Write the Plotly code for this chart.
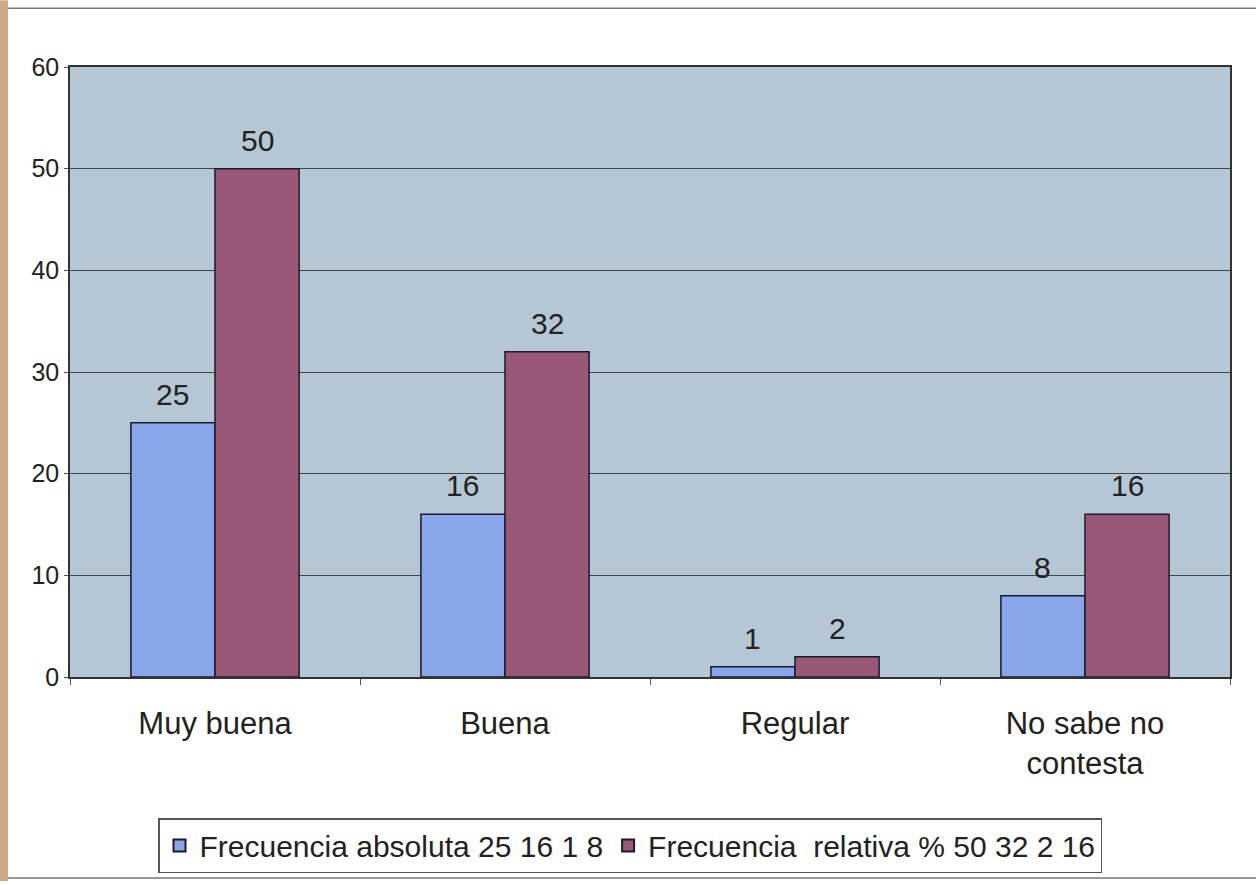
import plotly.graph_objects as go

categories = ["Muy buena", "Buena", "Regular", "No sabe no<br>contesta"]
abs_vals = [25, 16, 1, 8]
rel_vals = [50, 32, 2, 16]
name_abs = "Frecuencia absoluta 25 16 1 8"
name_rel = "Frecuencia  relativa % 50 32 2 16"
y_ticks = [0, 10, 20, 30, 40, 50, 60]

FONT = "Liberation Sans, Arial, sans-serif"
W, H = 1256, 885
L, R, T, B = 70, 26, 67, 205
PW, PH = W - L - R, H - T - B
BARGAP = 0.42

fig = go.Figure()
fig.add_trace(go.Bar(
    x=categories, y=abs_vals, name=name_abs,
    marker=dict(color="#8aa6ea", line=dict(color="#1a1a2a", width=1.5)),
))
fig.add_trace(go.Bar(
    x=categories, y=rel_vals, name=name_rel,
    marker=dict(color="#9a5878", line=dict(color="#1a1a2a", width=1.5)),
))

# value labels above each bar (offset by half a bar width within the group)
half_bar_px = PW / len(categories) * (1 - BARGAP) / 4
annotations = []
for series, sign in ((abs_vals, -1), (rel_vals, 1)):
    for cat, v in zip(categories, series):
        annotations.append(dict(
            x=cat, y=v, xref="x", yref="y", text=str(v), showarrow=False,
            xshift=sign * half_bar_px, yshift=10, yanchor="bottom",
            font=dict(size=30, color="#222"),
        ))

# scan decorations: tan strip at left edge, thin rules at top and bottom
def px_x(p):
    return (p - L) / PW

def px_y(p):
    return (H - B - p) / PH

shapes = [
    dict(type="rect", xref="paper", yref="paper", x0=px_x(0), x1=px_x(8),
         y0=px_y(H), y1=px_y(0), fillcolor="#cfa888", line=dict(width=0), layer="below"),
    dict(type="line", xref="paper", yref="paper", x0=px_x(8), x1=px_x(W),
         y0=px_y(8), y1=px_y(8), line=dict(color="#777", width=1.5)),
    dict(type="line", xref="paper", yref="paper", x0=px_x(8), x1=px_x(W),
         y0=px_y(882), y1=px_y(882), line=dict(color="#777", width=1.5)),
]

fig.update_layout(
    width=W, height=H,
    margin=dict(l=L, r=R, t=T, b=B),
    paper_bgcolor="white",
    plot_bgcolor="#b5c7d5",
    font=dict(family=FONT, color="#222"),
    barmode="group", bargap=BARGAP, bargroupgap=0,
    showlegend=True,
    shapes=shapes,
    annotations=annotations,
    legend=dict(
        orientation="h", x=px_x(630), xanchor="center", y=px_y(877), yanchor="bottom",
        font=dict(size=30, color="#222"),
        bordercolor="#555", borderwidth=1.5, bgcolor="white",
        itemsizing="constant", itemwidth=30, traceorder="normal",
        tracegroupgap=0,
    ),
    xaxis=dict(
        tickfont=dict(size=31), showgrid=False,
        showline=True, linecolor="#333", linewidth=1.5, mirror=True,
        ticks="outside", tickson="boundaries", ticklen=6, tickcolor="#555",
        ticklabelstandoff=18,
    ),
    yaxis=dict(
        range=[0, 60], tickvals=y_ticks, tickfont=dict(size=25),
        showgrid=True, gridcolor="#444", gridwidth=1,
        showline=True, linecolor="#333", linewidth=1.5, mirror=True,
        ticks="outside", ticklen=4, tickcolor="#555", zeroline=False,
    ),
)

post = (
    "var s='margin:0;padding:0;overflow:hidden;height:885px;';"
    "document.documentElement.style.cssText=s;document.body.style.cssText=s;"
)
fig.write_html("out.html", config={"displayModeBar": False}, post_script=post)
